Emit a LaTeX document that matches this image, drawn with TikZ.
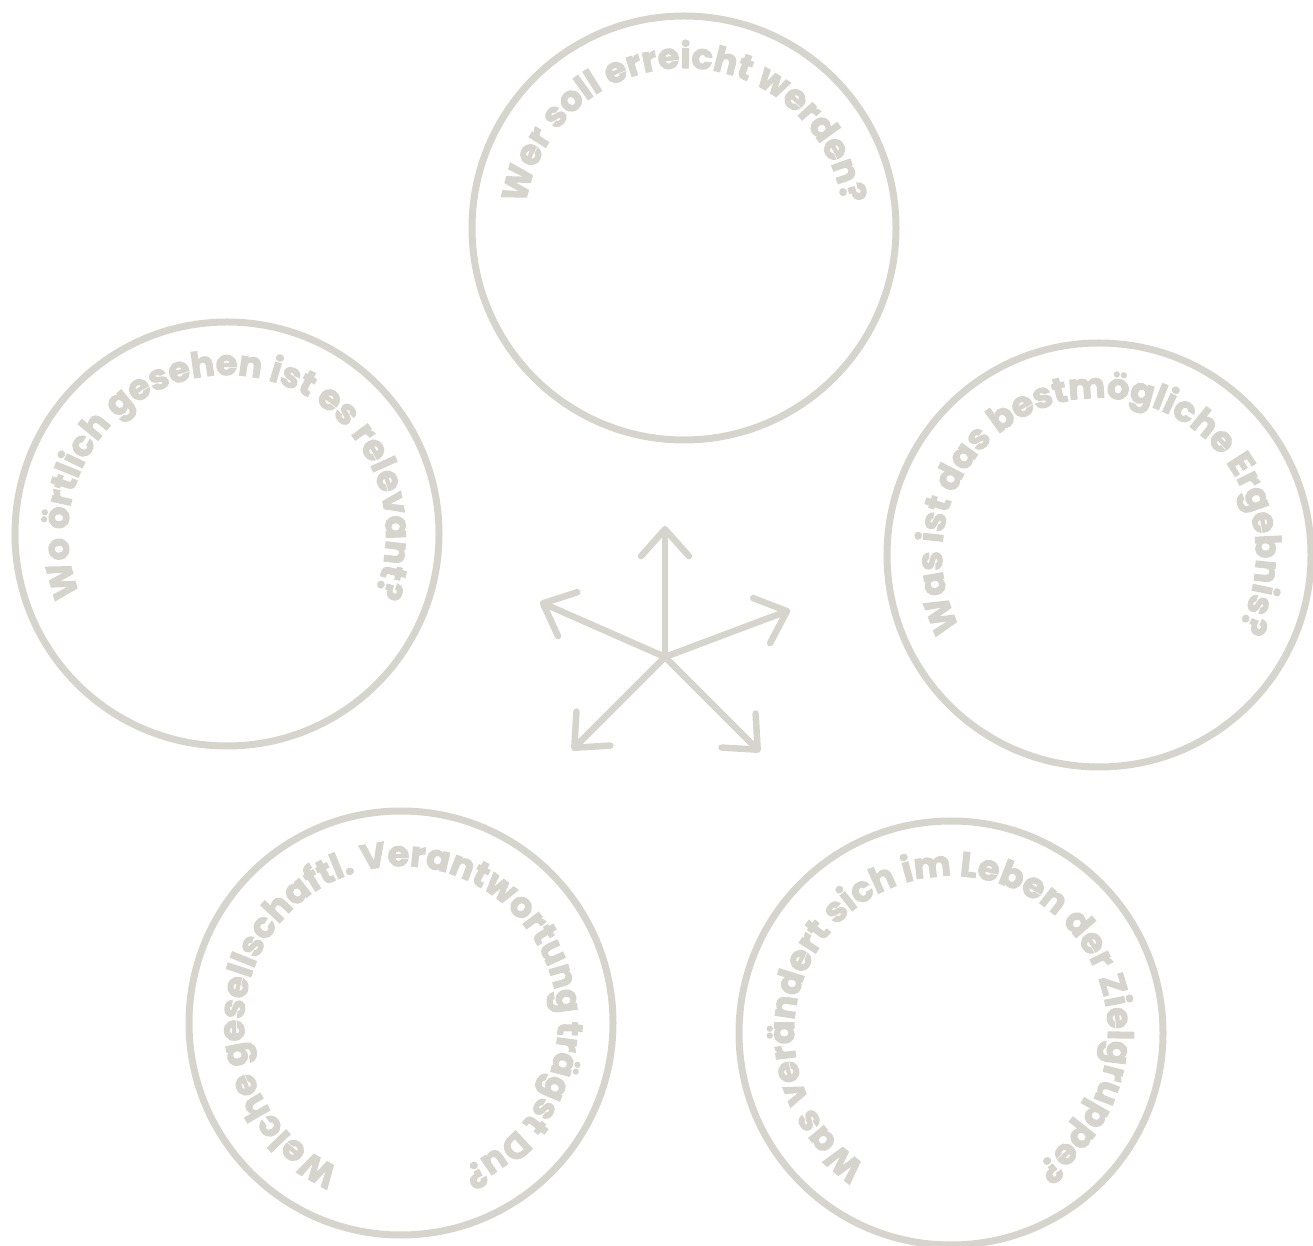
\documentclass[tikz,border=0pt]{standalone}
\usepackage{fontspec}
\newfontfamily\popfont{Poppins}[FakeBold=3]
\usetikzlibrary{decorations.text, arrows.meta, calc}
\definecolor{ringgray}{RGB}{214,213,205}
\tikzset{
  ring/.style={circle, draw=ringgray, line width=7pt, minimum size=424pt, inner sep=0pt},
  spoke/.style={draw=ringgray, line width=6.5pt, line cap=round, line join=round,
    -{Straight Barb[length=27pt, width=48pt, round]}},
}
\newcommand\ringlabel[3]{%
  \path[decorate, decoration={text along path, text align=center, text color=ringgray,
    text={|\popfont\bfseries\fontsize{35}{40}\selectfont|#3}}]
    ($(#1)+(269:#2)$) arc[start angle=269, end angle=-89, radius=#2];
}
\begin{document}
\begin{tikzpicture}[x=1pt, y=1pt]
\useasboundingbox (0,0) rectangle (1313,1245);
\node[ring] (ctop) at (684,1017) {};
\node[ring] (cleft) at (227,711) {};
\node[ring] (cright) at (1099,690) {};
\node[ring] (cbl) at (401,222) {};
\node[ring] (cbr) at (951,212) {};
\ringlabel{ctop}{160}{Wer soll erreicht werden?}
\ringlabel{cleft}{159}{Wo örtlich gesehen ist es relevant?}
\ringlabel{cright}{157}{Was ist das bestmögliche Ergebnis?}
\ringlabel{cbl}{157}{Welche gesellschaftl. Verantwortung trägst Du?}
\ringlabel{cbr}{157}{Was verändert sich im Leben der Zielgruppe?}
\coordinate (hub) at (665,588);
\coordinate (tipN) at (665,719);
\coordinate (tipW) at (540,643);
\coordinate (tipE) at (790,635);
\coordinate (tipSW) at (572,495);
\coordinate (tipSE) at (760,493);
\draw[spoke] (hub) -- (tipN);
\draw[spoke] (hub) -- (tipW);
\draw[spoke] (hub) -- (tipE);
\draw[spoke] (hub) -- (tipSW);
\draw[spoke] (hub) -- (tipSE);
\end{tikzpicture}
\end{document}
